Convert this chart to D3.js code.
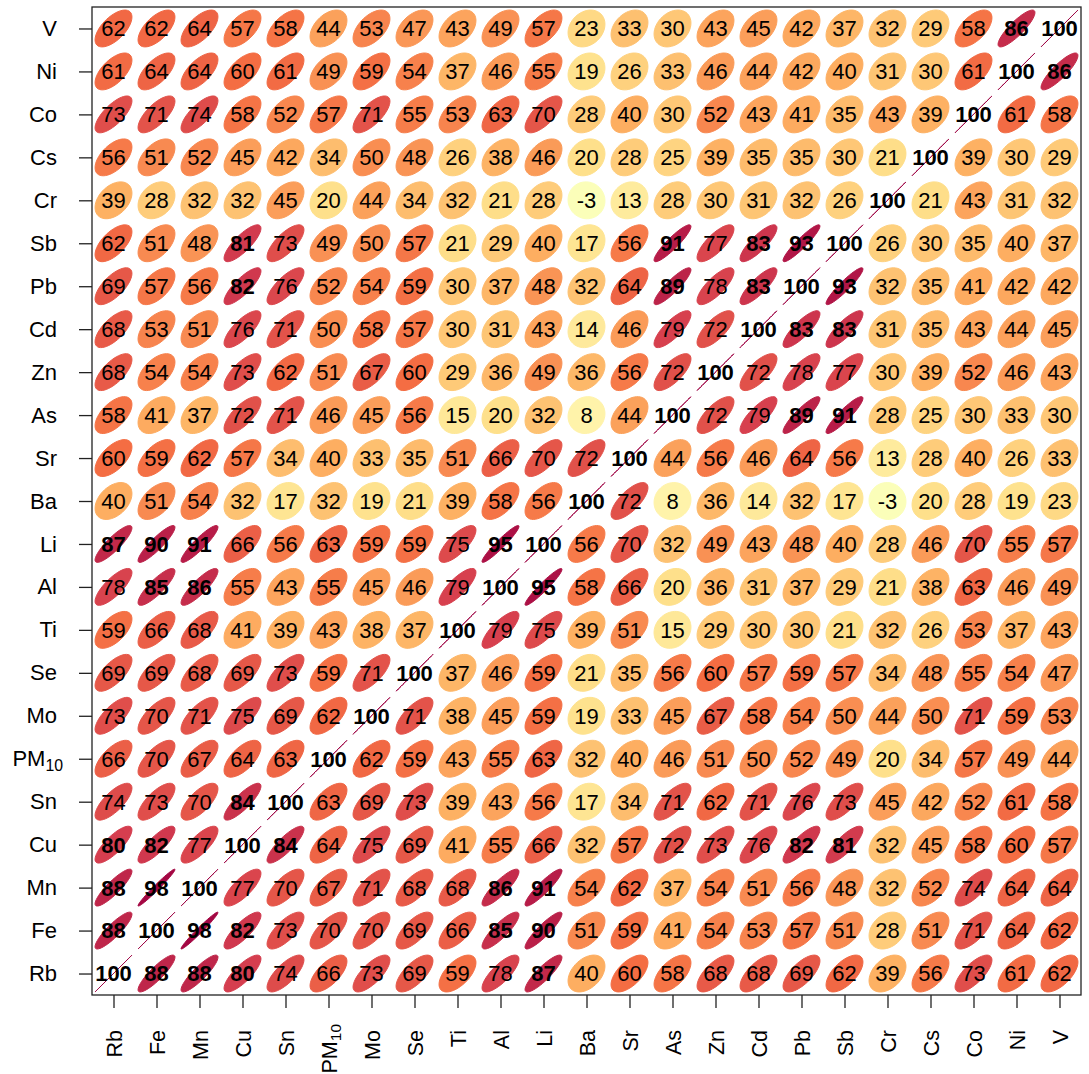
<!DOCTYPE html>
<html>
<head>
<meta charset="utf-8">
<script src="https://cdn.jsdelivr.net/npm/d3@7"></script>
<style>
  body { margin: 0; background: #fff; }
  svg text { font-family: "Liberation Sans", Arial, Helvetica, sans-serif; }
</style>
</head>
<body>
<svg id="chart" width="1089" height="1074"></svg>
<script>
// Variable order along both axes (x: left→right, y: bottom→top)
const variables = ["Rb","Fe","Mn","Cu","Sn","PM10","Mo","Se","Ti","Al","Li","Ba","Sr","As","Zn","Cd","Pb","Sb","Cr","Cs","Co","Ni","V"];

// Pearson correlation (x100) of each variable with every variable, in the order above
const corRb   = [100,88,88,80,74,66,73,69,59,78,87,40,60,58,68,68,69,62,39,56,73,61,62];
const corFe   = [88,100,98,82,73,70,70,69,66,85,90,51,59,41,54,53,57,51,28,51,71,64,62];
const corMn   = [88,98,100,77,70,67,71,68,68,86,91,54,62,37,54,51,56,48,32,52,74,64,64];
const corCu   = [80,82,77,100,84,64,75,69,41,55,66,32,57,72,73,76,82,81,32,45,58,60,57];
const corSn   = [74,73,70,84,100,63,69,73,39,43,56,17,34,71,62,71,76,73,45,42,52,61,58];
const corPM10 = [66,70,67,64,63,100,62,59,43,55,63,32,40,46,51,50,52,49,20,34,57,49,44];
const corMo   = [73,70,71,75,69,62,100,71,38,45,59,19,33,45,67,58,54,50,44,50,71,59,53];
const corSe   = [69,69,68,69,73,59,71,100,37,46,59,21,35,56,60,57,59,57,34,48,55,54,47];
const corTi   = [59,66,68,41,39,43,38,37,100,79,75,39,51,15,29,30,30,21,32,26,53,37,43];
const corAl   = [78,85,86,55,43,55,45,46,79,100,95,58,66,20,36,31,37,29,21,38,63,46,49];
const corLi   = [87,90,91,66,56,63,59,59,75,95,100,56,70,32,49,43,48,40,28,46,70,55,57];
const corBa   = [40,51,54,32,17,32,19,21,39,58,56,100,72,8,36,14,32,17,-3,20,28,19,23];
const corSr   = [60,59,62,57,34,40,33,35,51,66,70,72,100,44,56,46,64,56,13,28,40,26,33];
const corAs   = [58,41,37,72,71,46,45,56,15,20,32,8,44,100,72,79,89,91,28,25,30,33,30];
const corZn   = [68,54,54,73,62,51,67,60,29,36,49,36,56,72,100,72,78,77,30,39,52,46,43];
const corCd   = [68,53,51,76,71,50,58,57,30,31,43,14,46,79,72,100,83,83,31,35,43,44,45];
const corPb   = [69,57,56,82,76,52,54,59,30,37,48,32,64,89,78,83,100,93,32,35,41,42,42];
const corSb   = [62,51,48,81,73,49,50,57,21,29,40,17,56,91,77,83,93,100,26,30,35,40,37];
const corCr   = [39,28,32,32,45,20,44,34,32,21,28,-3,13,28,30,31,32,26,100,21,43,31,32];
const corCs   = [56,51,52,45,42,34,50,48,26,38,46,20,28,25,39,35,35,30,21,100,39,30,29];
const corCo   = [73,71,74,58,52,57,71,55,53,63,70,28,40,30,52,43,41,35,43,39,100,61,58];
const corNi   = [61,64,64,60,61,49,59,54,37,46,55,19,26,33,46,44,42,40,31,30,61,100,86];
const corV    = [62,62,64,57,58,44,53,47,43,49,57,23,33,30,43,45,42,37,32,29,58,86,100];

const corRows = [corRb,corFe,corMn,corCu,corSn,corPM10,corMo,corSe,corTi,corAl,corLi,corBa,
                 corSr,corAs,corZn,corCd,corPb,corSb,corCr,corCs,corCo,corNi,corV];

// Diverging palette (reversed Spectral) over -1..1
const paletteStops = [-1,-0.8,-0.6,-0.4,-0.2,0,0.2,0.4,0.6,0.8,1];
const paletteColours = ["#5E4FA2","#3288BD","#66C2A5","#ABDDA4","#E6F598","#FFFFBF",
                        "#FEE08B","#FDAE61","#F46D43","#D53E4F","#9E0142"];

const svg = d3.select("#chart");
const plot = { left: 92, right: 1081, top: 7, bottom: 995 };
const n = variables.length;

const x = d3.scaleLinear().domain([0.5, n + 0.5]).range([plot.left, plot.right]);
const y = d3.scaleLinear().domain([0.5, n + 0.5]).range([plot.bottom, plot.top]);
const colour = d3.scaleLinear().domain(paletteStops).range(paletteColours)
  .interpolate(d3.interpolateRgb).clamp(true);

// cells: one per pair (column i, row j)
const cells = [];
corRows.forEach((row, j) => row.forEach((v, i) => cells.push({ i: i + 1, j: j + 1, v })));

// Confidence ellipse of a bivariate normal with correlation r (level 0.9, scale 0.2)
const radius = Math.sqrt(-2 * Math.log(1 - 0.9)) * 0.2;
const angles = d3.range(50).map(k => k * 2 * Math.PI / 50);
const ellipseLine = d3.line().curve(d3.curveLinearClosed);
function ellipsePath(d) {
  const r = d.v / 100;
  const half = Math.acos(Math.max(-1, Math.min(1, r))) / 2;
  return ellipseLine(angles.map(a => [
    x(d.i + radius * Math.cos(a + half)),
    y(d.j + radius * Math.cos(a - half))
  ]));
}

svg.append("g").selectAll("path")
  .data(cells)
  .join("path")
  .attr("d", ellipsePath)
  .attr("fill", d => colour(d.v / 100))
  .attr("stroke", d => colour(d.v / 100))
  .attr("stroke-width", 1)
  .attr("stroke-linejoin", "round");

svg.append("g").selectAll("text")
  .data(cells)
  .join("text")
  .attr("x", d => x(d.i))
  .attr("y", d => y(d.j))
  .attr("dy", "0.36em")
  .attr("text-anchor", "middle")
  .attr("font-size", 22)
  .attr("font-weight", d => Math.abs(d.v) >= 80 ? "bold" : "normal")
  .attr("fill", "#000")
  .text(d => d.v);

// frame
svg.append("rect")
  .attr("x", plot.left).attr("y", plot.top)
  .attr("width", plot.right - plot.left).attr("height", plot.bottom - plot.top)
  .attr("fill", "none").attr("stroke", "#222").attr("stroke-width", 1.3);

const ticks = d3.range(1, n + 1);
// writes a variable name, with the digits of PMxx as a subscript
function labelWithSubscript(sel, shift) {
  sel.each(function(t) {
    const name = variables[t - 1];
    const node = d3.select(this).text(null);
    const m = name.match(/^PM(\d+)$/);
    if (m) {
      node.attr("x", +node.attr("x") + shift);
      node.append("tspan").text("PM");
      node.append("tspan").attr("font-size", "0.72em").attr("dy", "0.3em").text(m[1]);
    } else {
      node.text(name);
    }
  });
}

const yAxis = svg.append("g")
  .attr("transform", `translate(${plot.left},0)`)
  .call(d3.axisLeft(y).tickValues(ticks).tickSize(13).tickSizeOuter(0).tickPadding(22));
yAxis.select(".domain").remove();
yAxis.selectAll(".tick line").attr("stroke", "#222").attr("stroke-width", 1.3);
yAxis.selectAll(".tick text")
  .attr("font-size", 22)
  .attr("fill", "#000")
  .call(labelWithSubscript, 6);

const xAxis = svg.append("g")
  .attr("transform", `translate(0,${plot.bottom})`)
  .call(d3.axisBottom(x).tickValues(ticks).tickSize(13).tickSizeOuter(0));
xAxis.select(".domain").remove();
xAxis.selectAll(".tick line").attr("stroke", "#222").attr("stroke-width", 1.3);
xAxis.selectAll(".tick text")
  .attr("font-size", 21.5)
  .attr("fill", "#000")
  .attr("transform", "rotate(-90)")
  .attr("text-anchor", "end")
  .attr("x", -35)
  .attr("y", 0)
  .attr("dy", "0.36em")
  .call(labelWithSubscript, 6);
</script>
</body>
</html>
